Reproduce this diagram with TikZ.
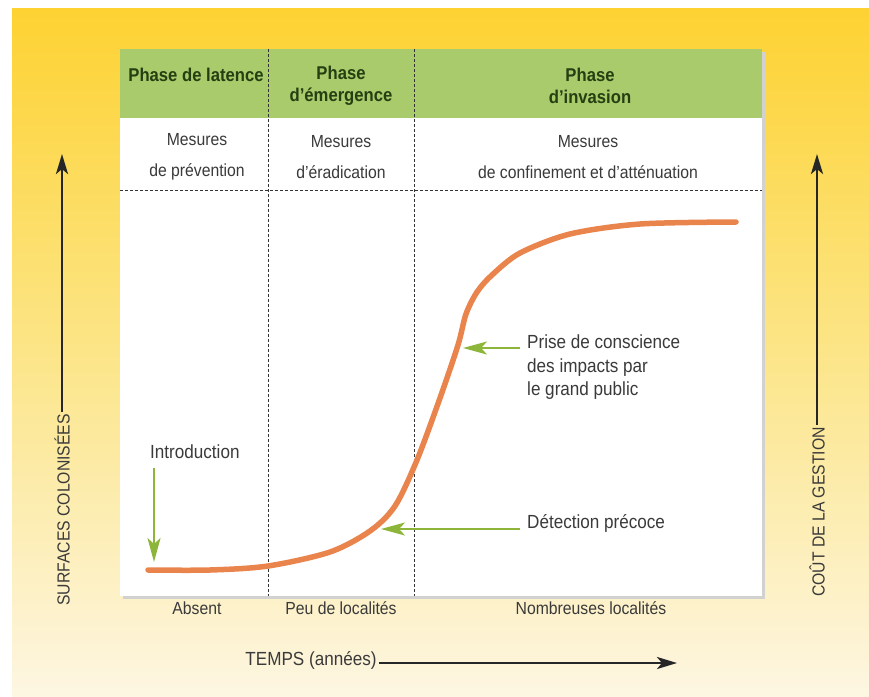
\documentclass[tikz,border=0pt]{standalone}
\usepackage{fontspec}
\setmainfont{Liberation Sans}[FakeStretch=0.9]
\usetikzlibrary{arrows.meta}
\definecolor{hdrgreen}{HTML}{A9CB6B}
\definecolor{hdrtext}{HTML}{243F12}
\definecolor{bodytext}{HTML}{3A3A3A}
\definecolor{bgtop}{HTML}{FDD232}
\definecolor{bgmid}{HTML}{FCE588}
\definecolor{bgbot}{HTML}{FDF6E2}
\definecolor{curveorange}{HTML}{E9844C}
\definecolor{arrgreen}{HTML}{8CB53A}
\begin{document}
\begin{tikzpicture}[x=1pt,y=-1pt,
  hdr/.style={font=\fontsize{18.5}{22}\selectfont\bfseries, text=hdrtext, align=center, inner sep=0pt},
  body/.style={font=\fontsize{17.5}{31}\selectfont, text=bodytext, align=center, inner sep=0pt},
  note/.style={font=\fontsize{19}{23.5}\selectfont, text=bodytext, align=left, inner sep=0pt},
  divider/.style={dash pattern=on 3pt off 2pt, line width=0.9pt, draw=black!80},
  pointer/.style={draw=arrgreen, line width=2pt, -{Stealth[length=24pt,width=13pt,inset=6pt]}},
  axisarrow/.style={draw=black!85, line width=2.7pt, -{Stealth[length=20pt,width=12pt,inset=5pt]}},
  axislabel/.style={font=\fontsize{17.5}{20}\selectfont, text=bodytext, inner sep=2pt}]
\useasboundingbox (0,0) rectangle (869,696);
\fill[white] (0,0) rectangle (869,696);
% background gradient
\shade[top color=bgtop, bottom color=bgbot, middle color=bgmid] (12,8) rectangle (869,696);
% panel
\fill[black!18] (123,52) rectangle (765,599);
\fill[white] (120,49) rectangle (762,596);
\fill[hdrgreen] (120,49) rectangle (762,118);
% dividers
\draw[divider] (120,190) -- (762,190);
\draw[divider] (268,49) -- (268,596);
\draw[divider] (414,49) -- (414,596);
% header texts
\node[hdr] (h1) at (196,75) {Phase de latence};
\node[hdr] (h2) at (341,86) {Phase\\d'émergence};
\node[hdr] (h3) at (590,86) {Phase\\d'invasion};
% measures
\node[body] (m1) at (197,157) {Mesures\\de prévention};
\node[body] (m2) at (341,157) {Mesures\\d'éradication};
\node[body] (m3) at (588,157) {Mesures\\de confinement et d'atténuation};
% curve
\draw[curveorange, line width=5.5pt, line cap=round]
  plot[smooth, tension=0.5] coordinates {(148,570) (210,570) (268,566) (330,552) (370,531) (395,506) (417,460) (440,398) (458,345) (466,314) (477,292) (492,275) (520,253) (570,234) (640,224) (736,222)};
% curve anchor points
\coordinate (cintro) at (154,562);
\coordinate (cprise) at (463,348);
\coordinate (cdetect) at (381,529);
% annotations
\node[note, anchor=west] (intro) at (150,452) {Introduction};
\node[note, anchor=north west] (prise) at (527,335) {Prise de conscience\\des impacts par\\le grand public};
\node[note, anchor=west] (detect) at (527,523) {Détection précoce};
\coordinate (introtop) at (154,468);
\coordinate (prisestart) at (520,348);
\coordinate (detectstart) at (520,529);
\draw[pointer] (introtop) -- (cintro);
\draw[pointer] (prisestart) -- (cprise);
\draw[pointer] (detectstart) -- (cdetect);
% bottom labels
\node[body] (b1) at (197,608) {Absent};
\node[body] (b2) at (341,608) {Peu de localités};
\node[body] (b3) at (591,608) {Nombreuses localités};
% time axis
\node[axislabel, font=\fontsize{19}{20}\selectfont] (temps) at (311,660) {TEMPS (années)};
\coordinate (tempsend) at (677,663);
\draw[axisarrow] (temps.east |- tempsend) -- (tempsend);
% left axis
\node[axislabel, rotate=90] (surf) at (62,510) {SURFACES COLONISÉES};
\coordinate (surftop) at (62,154);
\draw[axisarrow] (surf.east) -- (surftop);
% right axis
\node[axislabel, rotate=90] (cout) at (817,512) {COÛT DE LA GESTION};
\coordinate (couttop) at (817,154);
\draw[axisarrow] (cout.east) -- (couttop);
\end{tikzpicture}
\end{document}
